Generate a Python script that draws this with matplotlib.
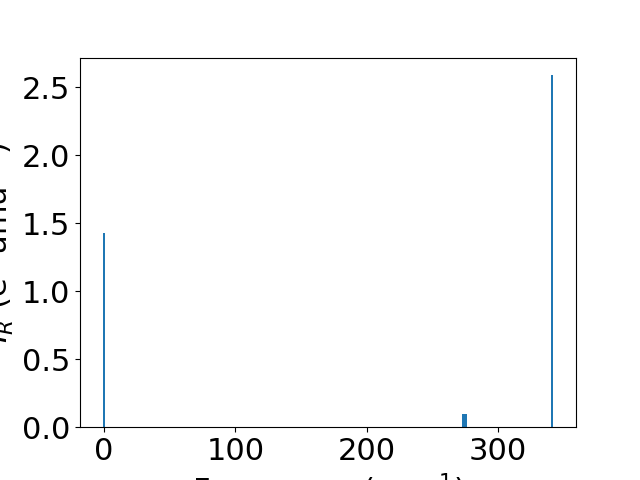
import matplotlib
matplotlib.use("Agg")
import matplotlib.pyplot as plt

# Mode frequencies (cm^-1) and IR intensities
frequencies = [0.0, 273.5, 275.0, 341.0]
intensities = [1.43, 0.10, 0.10, 2.59]

plt.rcParams['font.size'] = 22

fig, ax = plt.subplots(figsize=(6.4, 4.8), dpi=100)
ax.bar(frequencies, intensities, width=2.0, color='#1f77b4')
ax.set_xlabel(r'Frequency (cm$^{-1}$)')
ax.set_ylabel(r'$I_R$ (e$^2$ amu$^{-1}$)')

fig.savefig('out.png', dpi=100)
